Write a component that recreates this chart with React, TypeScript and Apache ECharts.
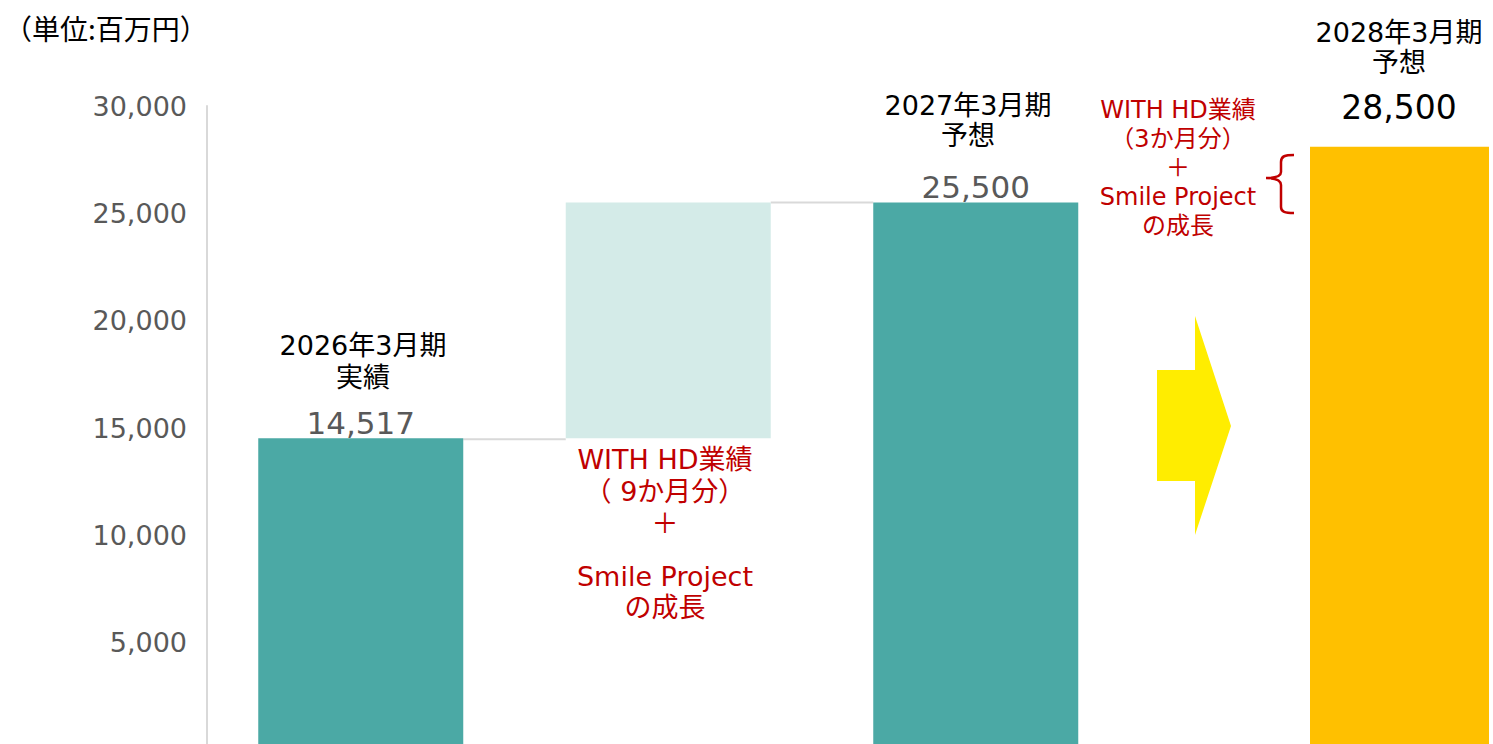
import React, { useEffect, useRef } from "react";
import * as echarts from "echarts";

const categories = ["2026年3月期 実績", "増加分", "2027年3月期 予想"];
const baseValues = [0, 14517, 0];
const barValues = [14517, 10983, 25500];
const totalValues = [14517, null, 25500];
const forecastCategory = ["2028年3月期 予想"];
const forecastBar = [28100];
const forecastLabel = "28,500";
const yMin = 0;
const yMax = 30000;
const yInterval = 5000;

const CJK = "'Noto Sans CJK JP', sans-serif";
const MIX = "'DejaVu Sans', 'Noto Sans CJK JP', sans-serif";
const TEAL = "#4BA9A5";
const LIGHT = "#D4EBE8";
const ORANGE = "#FFC000";
const YELLOW = "#FFED00";
const RED = "#C00000";
const GRAY = "#595959";

const BRACE_D =
  "M1294 155 C1285 155 1281 156 1281 162 L1281 172 C1281 176 1276 178 1266 178 C1276 178 1281 180 1281 185 L1281 207 C1281 212 1285 213 1294 213";

let registered = false;

export default function App() {
  const ref = useRef<HTMLDivElement>(null);
  useEffect(() => {
    if (!ref.current) return;
    if (!registered) {
      echarts.graphic.registerShape("brace", echarts.graphic.extendPath(BRACE_D, {}));
      registered = true;
    }
    const chart = echarts.init(ref.current, undefined, { renderer: "svg" });
    const barW = 205;
    chart.setOption({
      animation: false,
      grid: [
        { left: 207, top: 106, width: 922.5, height: 644, outerBoundsMode: "none", containLabel: false },
        { left: 1310, top: 106, width: 179, height: 644, outerBoundsMode: "none", containLabel: false },
      ],
      xAxis: [
        { type: "category", gridIndex: 0, data: categories, show: false },
        { type: "category", gridIndex: 1, data: forecastCategory, show: false },
      ],
      yAxis: [
        {
          type: "value",
          gridIndex: 0,
          min: yMin,
          max: yMax,
          interval: yInterval,
          axisLine: { show: true, lineStyle: { color: "#D9D9D9", width: 2 } },
          axisTick: { show: false },
          splitLine: { show: false },
          axisLabel: {
            margin: 20,
            fontSize: 27,
            fontFamily: MIX,
            color: GRAY,
            formatter: (v: number) => (v === 0 ? "" : v.toLocaleString("en-US")),
          },
        },
        { type: "value", gridIndex: 1, min: yMin, max: yMax, interval: yInterval, show: false, splitLine: { show: false } },
      ],
      series: [
        {
          type: "bar",
          stack: "w",
          barWidth: barW,
          data: baseValues,
          itemStyle: { color: "transparent" },
          silent: true,
        },
        {
          type: "bar",
          stack: "w",
          barWidth: barW,
          data: barValues.map((v, i) => ({ value: v, itemStyle: { color: i === 1 ? LIGHT : TEAL } })),
          label: {
            show: true,
            position: "top",
            distance: 0,
            fontSize: 31,
            fontFamily: MIX,
            color: GRAY,
            formatter: (p: any) => {
              const t = totalValues[p.dataIndex];
              return t == null ? "" : t.toLocaleString("en-US");
            },
          },
        },
        {
          type: "bar",
          xAxisIndex: 1,
          yAxisIndex: 1,
          barWidth: "100%",
          data: forecastBar,
          itemStyle: { color: ORANGE },
        },
      ],
    });

    const p0 = chart.convertToPixel({ gridIndex: 0 }, [0, barValues[0]]) as number[];
    const p1 = chart.convertToPixel({ gridIndex: 0 }, [1, totalValues[2] as number]) as number[];
    const p2 = chart.convertToPixel({ gridIndex: 0 }, [2, totalValues[2] as number]) as number[];
    const half = barW / 2;

    const txt = (text: string, x: number, y: number, size: number, fill: string, family: string, lh?: number) => ({
      type: "text",
      silent: true,
      style: {
        text,
        x,
        y,
        align: "center",
        verticalAlign: "middle",
        fontSize: size,
        fontFamily: family,
        fill,
        lineHeight: lh || Math.round(size * 1.2),
      },
    });

    chart.setOption({
      graphic: [
        {
          type: "line",
          silent: true,
          shape: { x1: p0[0] + half, y1: p0[1] + 1, x2: p1[0] - half, y2: p0[1] + 1 },
          style: { stroke: "#D9D9D9", lineWidth: 2 },
        },
        {
          type: "line",
          silent: true,
          shape: { x1: p1[0] + half, y1: p1[1], x2: p2[0] - half, y2: p2[1] },
          style: { stroke: "#D9D9D9", lineWidth: 2 },
        },
        {
          type: "text",
          silent: true,
          style: { text: "（単位:百万円）", x: 4, y: 28, align: "left", verticalAlign: "middle", fontSize: 28, fontFamily: CJK, fill: "#000" },
        },
        txt("2026年3月期\n実績", 363, 361, 27, "#000", MIX, 32),
        txt("2027年3月期\n予想", 968, 120, 27, "#000", MIX, 30),
        txt("2028年3月期\n予想", 1399, 47, 27, "#000", MIX, 30),
        txt(forecastLabel, 1399, 107, 33, "#000", MIX),
        txt("WITH HD業績\n（ 9か月分）\n＋", 665, 491, 27, RED, MIX, 32),
        txt("Smile Project\nの成長", 665, 592, 27, RED, MIX, 31),
        txt("WITH HD業績\n（3か月分）\n＋\nSmile Project\nの成長", 1178, 168, 24, RED, MIX, 29),
        {
          type: "polygon",
          silent: true,
          shape: {
            points: [
              [1157, 370],
              [1195, 370],
              [1195, 316],
              [1231, 426],
              [1195, 535],
              [1195, 481],
              [1157, 481],
            ],
          },
          style: { fill: YELLOW },
        },
        {
          type: "brace",
          silent: true,
          x: 0,
          y: 0,
          style: { fill: "none", stroke: RED, lineWidth: 2.5 },
        },
      ],
    });

    return () => chart.dispose();
  }, []);
  return <div ref={ref} style={{ width: 1493, height: 744, position: "absolute", left: 0, top: 0 }} />;
}
